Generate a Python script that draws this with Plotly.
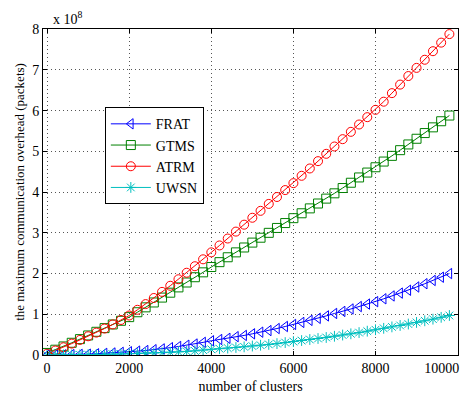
import plotly.graph_objects as go

clusters = list(range(0, 10000, 200))

frat = [0.00, 0.00, 0.005, 0.01, 0.015, 0.02, 0.03, 0.04, 0.05, 0.065, 0.08,
        0.095, 0.11, 0.13, 0.15, 0.18, 0.21, 0.24, 0.27, 0.31, 0.35,
        0.38, 0.41, 0.45, 0.48, 0.52, 0.56, 0.60, 0.65, 0.70, 0.75,
        0.80, 0.85, 0.90, 0.96, 1.02, 1.07, 1.13, 1.19, 1.25, 1.31,
        1.38, 1.45, 1.52, 1.59, 1.67, 1.75, 1.83, 1.91, 2.00]

gtms = [0.05, 0.13, 0.21, 0.30, 0.39, 0.48, 0.57, 0.66, 0.75, 0.84, 0.93,
        1.05, 1.17, 1.29, 1.41, 1.53, 1.66, 1.78, 1.91, 2.03, 2.16,
        2.28, 2.40, 2.52, 2.64, 2.76, 2.88, 3.00, 3.12, 3.24, 3.36,
        3.48, 3.60, 3.72, 3.84, 3.97, 4.10, 4.23, 4.36, 4.48, 4.61,
        4.75, 4.89, 5.03, 5.17, 5.31, 5.45, 5.59, 5.74, 5.88]

atrm = [0.03, 0.11, 0.19, 0.28, 0.37, 0.46, 0.55, 0.65, 0.75, 0.86, 0.97,
        1.11, 1.25, 1.40, 1.55, 1.70, 1.86, 2.02, 2.18, 2.35, 2.52,
        2.69, 2.86, 3.03, 3.20, 3.37, 3.54, 3.71, 3.88, 4.05, 4.22,
        4.40, 4.58, 4.76, 4.94, 5.12, 5.30, 5.48, 5.66, 5.84, 6.02,
        6.22, 6.43, 6.64, 6.85, 7.05, 7.25, 7.46, 7.67, 7.88]

uwsn = [0.00, 0.00, 0.002, 0.004, 0.006, 0.009, 0.012, 0.016, 0.02, 0.025, 0.03,
        0.036, 0.043, 0.05, 0.058, 0.067, 0.077, 0.088, 0.10, 0.12, 0.14,
        0.155, 0.17, 0.185, 0.20, 0.22, 0.24, 0.26, 0.28, 0.305, 0.33,
        0.355, 0.38, 0.405, 0.43, 0.46, 0.49, 0.52, 0.55, 0.585, 0.62,
        0.655, 0.69, 0.725, 0.76, 0.80, 0.84, 0.88, 0.925, 0.97]

x_ticks = [0, 2000, 4000, 6000, 8000, 10000]
x_ticktext = ["0", "2000", "4000", "6000", "8000", "10000" + "\u00a0" * 9]
y_ticks = [0, 1, 2, 3, 4, 5, 6, 7, 8]

FONT = "Liberation Serif, Times New Roman, serif"

series = [
    ("FRAT", frat, "#0000FF", "triangle-left-open"),
    ("GTMS", gtms, "#008000", "square-open"),
    ("ATRM", atrm, "#FF0000", "circle-open"),
    ("UWSN", uwsn, "#00BFBF", "asterisk-open"),
]

fig = go.Figure()
for name, vals, color, sym in series:
    fig.add_trace(go.Scatter(
        x=clusters, y=vals, name=name, mode="lines+markers",
        line=dict(color=color, width=1),
        marker=dict(symbol=sym, size=9, color=color, line=dict(color=color, width=1)),
    ))

axis_common = dict(
    showline=True, linecolor="black", linewidth=1, mirror="allticks",
    ticks="inside", ticklen=4, tickcolor="black",
    showgrid=True, gridcolor="#555555", griddash="1px,3px", gridwidth=1,
    zeroline=False, tickfont=dict(family=FONT, size=14, color="black"),
    ticklabeloverflow="allow", automargin=False,
)

fig.update_layout(
    width=463, height=400,
    margin=dict(l=43, r=5, t=29, b=45),
    paper_bgcolor="white", plot_bgcolor="white",
    font=dict(family=FONT, size=14, color="black"),
    xaxis=dict(range=[-100, 10010], tickvals=x_ticks, ticktext=x_ticktext,
               title=dict(text="number of clusters", font=dict(family=FONT, size=14), standoff=6),
               **axis_common),
    yaxis=dict(range=[0, 8.005], tickvals=y_ticks,
               title=dict(text="the maximum communication overhead (packets)",
                          font=dict(family=FONT, size=13), standoff=4),
               **axis_common),
    legend=dict(x=0.149, y=0.76, xanchor="left", yanchor="top",
                bgcolor="white", bordercolor="black", borderwidth=1,
                font=dict(family=FONT, size=14), tracegroupgap=0,
                itemwidth=40),
    showlegend=True,
    annotations=[dict(text="x 10<sup>8</sup>", xref="paper", yref="paper",
                      x=0.02, y=1.0, xanchor="left", yanchor="bottom",
                      showarrow=False, font=dict(family=FONT, size=14))],
)

fig.write_html("out.html")
